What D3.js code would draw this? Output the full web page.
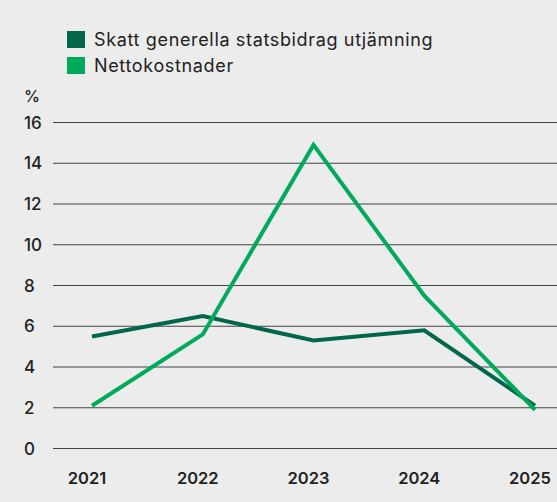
<!DOCTYPE html>
<html>
<head>
  <meta charset="utf-8">
  <script src="https://d3js.org/d3.v7.min.js"></script>
  <style>
    body, html { margin: 0; padding: 0; background: #ececec; }
    svg text { font-family: Inter, 'Noto Sans', sans-serif; fill: #222; }
  </style>
</head>
<body>
<svg width="557" height="502"></svg>
<script>
// chart data
const years = ["2021", "2022", "2023", "2024", "2025"];
const skatt = [5.5, 6.5, 5.3, 5.8, 2.1];
const netto = [2.1, 5.6, 14.9, 7.5, 1.9];
const yTicks = [0, 2, 4, 6, 8, 10, 12, 14, 16];
const seriesNames = ["Skatt generella statsbidrag utjämning", "Nettokostnader"];
const colors = ["#00674b", "#00aa5b"];

const svg = d3.select("svg");
svg.append("rect").attr("width", 557).attr("height", 502).attr("fill", "#ececec");

const x = d3.scalePoint().domain(years).range([92, 535]);
const y = d3.scaleLinear().domain([0, 16]).range([448.5, 122.5]);

// grid lines
svg.selectAll(".grid")
  .data(yTicks)
  .join("line")
  .attr("x1", 53).attr("x2", 557)
  .attr("y1", d => y(d)).attr("y2", d => y(d))
  .attr("stroke", "#444")
  .attr("stroke-width", 1);

// y labels
svg.selectAll(".ylab")
  .data(yTicks)
  .join("text")
  .attr("x", 24)
  .attr("y", d => y(d) + 6)
  .attr("font-size", 17)
  .attr("font-weight", 500)
  .text(d => d);

svg.append("text").attr("x", 24).attr("y", 102)
  .attr("font-size", 16).attr("font-weight", 500).text("%");

// x labels
svg.selectAll(".xlab")
  .data(years)
  .join("text")
  .attr("x", d => x(d) - 5)
  .attr("y", 484)
  .attr("text-anchor", "middle")
  .attr("font-size", 16.5)
  .attr("font-weight", 600)
  .text(d => d);

// lines
const line = d3.line().x((d, i) => x(years[i])).y(d => y(d));
[skatt, netto].forEach((s, i) => {
  svg.append("path")
    .attr("d", line(s))
    .attr("fill", "none")
    .attr("stroke", colors[i])
    .attr("stroke-width", 4)
    .attr("stroke-linejoin", "miter");
});

// legend
const leg = svg.selectAll(".leg")
  .data(seriesNames)
  .join("g")
  .attr("transform", (d, i) => "translate(67," + (31 + i * 26) + ")");
leg.append("rect").attr("width", 18).attr("height", 17).attr("fill", (d, i) => colors[i]);
leg.append("text").attr("x", 27).attr("y", 15)
  .attr("font-size", 18).attr("letter-spacing", 0.65).text(d => d);
</script>
</body>
</html>
